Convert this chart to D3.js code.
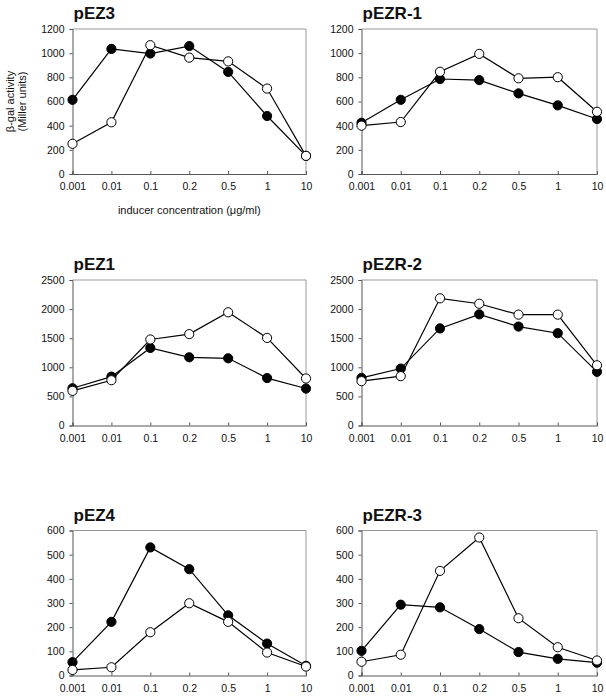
<!DOCTYPE html>
<html><head><meta charset="utf-8">
<script src="https://cdn.jsdelivr.net/npm/d3@7"></script>
<style>body{margin:0;background:#fff}svg{display:block}</style>
</head><body>
<script>
const categories = ["0.001","0.01","0.1","0.2","0.5","1","10"];
const panelNames = ["pEZ3","pEZR-1","pEZ1","pEZR-2","pEZ4","pEZR-3"];
const yMax = [1200,1200,2500,2500,600,600];
const yStep = [200,200,500,500,100,100];
const filledEZ3  = [614,1035,997,1059,845,480,150];
const openEZ3    = [250,428,1066,963,932,707,150];
const filledEZR1 = [424,614,786,777,667,568,455];
const openEZR1   = [400,430,846,994,792,801,515];
const filledEZ1  = [640,840,1333,1172,1155,815,635];
const openEZ1    = [595,778,1478,1570,1945,1505,808];
const filledEZR2 = [818,978,1668,1910,1700,1586,922];
const openEZR2   = [762,848,2185,2092,1905,1905,1035];
const filledEZ4  = [55,222,530,440,249,132,40];
const openEZ4    = [23,34,179,299,222,95,37];
const filledEZR3 = [102,293,282,192,97,69,53];
const openEZR3   = [57,86,433,571,237,117,62];
const filledAll = [filledEZ3,filledEZR1,filledEZ1,filledEZR2,filledEZ4,filledEZR3];
const openAll   = [openEZ3,openEZR1,openEZ1,openEZR2,openEZ4,openEZR3];
const yLabel1 = "β-gal activity";
const yLabel2 = "(Miller units)";
const xTitle = "inducer concentration (μg/ml)";

const W = 606, H = 700;
const svg = d3.select("body").append("svg").attr("width", W).attr("height", H);
const font = "'Liberation Sans', Arial, sans-serif";
const colX = [[72.5, 306], [361.5, 597]];
const rowY = [[29, 174], [280, 425.5], [530.5, 675.5]];

panelNames.forEach((name, i) => {
  const c = i % 2, r = Math.floor(i / 2);
  const [x0, x1] = colX[c], [y0, y1] = rowY[r];
  const x = d3.scalePoint().domain(categories).range([x0, x1]).padding(0);
  const y = d3.scaleLinear().domain([0, yMax[i]]).range([y1, y0]);
  const g = svg.append("g");

  g.append("path").attr("d", `M${x0},${y0}H${x1}V${y1}`)
    .attr("fill", "none").attr("stroke", "#999").attr("stroke-width", 1);

  const yAxis = d3.axisLeft(y).tickValues(d3.range(0, yMax[i] + 1, yStep[i]))
    .tickFormat(d3.format("d")).tickSize(3).tickPadding(5);
  const ya = g.append("g").attr("transform", `translate(${x0},0)`).call(yAxis);
  const xAxis = d3.axisBottom(x).tickSize(-3).tickPadding(9);
  const xa = g.append("g").attr("transform", `translate(0,${y1})`).call(xAxis);
  [ya, xa].forEach(a => {
    a.select(".domain").attr("stroke", "#555");
    a.selectAll(".tick line").attr("stroke", "#555");
    a.selectAll("text").attr("font-family", font).attr("font-size", 10.5).attr("fill", "#111");
  });

  g.append("text").attr("x", x0 + 1).attr("y", y0 - 10).text(name)
    .attr("font-family", font).attr("font-weight", "bold").attr("font-size", 17).attr("fill", "#111");

  const line = d3.line().x((d, j) => x(categories[j])).y(d => y(d));
  [filledAll[i], openAll[i]].forEach(vals => {
    g.append("path").datum(vals).attr("d", line).attr("fill", "none")
      .attr("stroke", "#000").attr("stroke-width", 1.2);
  });
  [filledAll[i], openAll[i]].forEach((vals, k) => {
    g.selectAll(null).data(vals).enter().append("circle")
      .attr("cx", (d, j) => x(categories[j])).attr("cy", d => y(d)).attr("r", 4.6)
      .attr("fill", k === 0 ? "#000" : "#fff").attr("stroke", "#000").attr("stroke-width", 1);
  });

  if (i === 0) {
    g.append("text").attr("x", (x0 + x1) / 2).attr("y", y1 + 40).attr("text-anchor", "middle")
      .text(xTitle).attr("font-family", font).attr("font-size", 11).attr("fill", "#111");
    const cy = (y0 + y1) / 2;
    g.append("text").attr("transform", `translate(14,${cy}) rotate(-90)`).attr("text-anchor", "middle")
      .text(yLabel1).attr("font-family", font).attr("font-size", 11).attr("fill", "#111");
    g.append("text").attr("transform", `translate(26,${cy}) rotate(-90)`).attr("text-anchor", "middle")
      .text(yLabel2).attr("font-family", font).attr("font-size", 11).attr("fill", "#111");
  }
});
</script>
</body></html>
